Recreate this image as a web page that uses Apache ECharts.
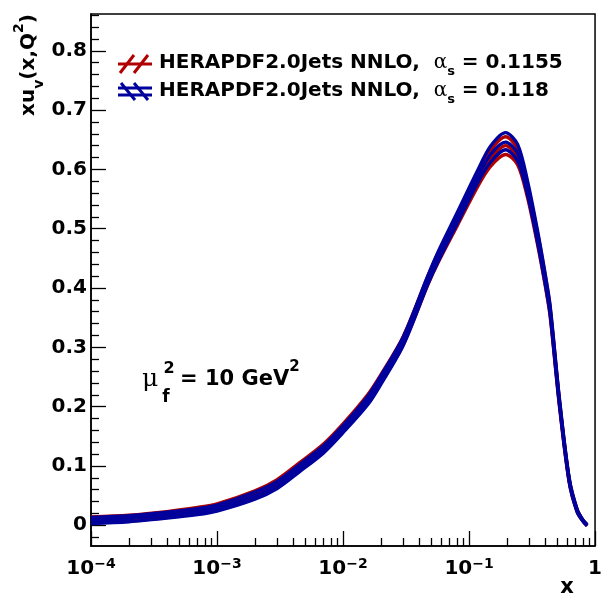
<!DOCTYPE html>
<html><head><meta charset="utf-8">
<script src="https://cdn.jsdelivr.net/npm/echarts@6/dist/echarts.min.js"></script>
<style>html,body{margin:0;padding:0;background:#fff}#c{width:605px;height:604px}</style>
</head><body><div id="c"></div>
<script>
// x grid (log scale)
const xValues = [1e-4, 2e-4, 4e-4, 7e-4, 1e-3, 2e-3, 3e-3, 4.5e-3, 7e-3, 0.01, 0.0158, 0.02, 0.03, 0.047, 0.0566, 0.081, 0.117, 0.148, 0.195, 0.243, 0.29, 0.35, 0.404, 0.44, 0.52, 0.624, 0.72, 0.8, 0.865];
// HERAPDF2.0Jets NNLO, alpha_s = 0.118 (blue band)
const blueUpper = [0.013,0.016,0.022,0.028,0.034,0.056,0.074,0.102,0.134,0.168,0.218,0.252,0.317,0.420,0.460,0.528,0.598,0.639,0.662,0.642,0.582,0.496,0.421,0.370,0.216,0.079,0.027,0.009,0.001];
const blueMid   = [0.008,0.011,0.017,0.023,0.029,0.050,0.068,0.096,0.128,0.162,0.211,0.245,0.310,0.413,0.452,0.519,0.587,0.625,0.646,0.627,0.570,0.486,0.413,0.363,0.211,0.076,0.025,0.008,0.000];
const blueLower = [0.003,0.006,0.012,0.018,0.024,0.044,0.062,0.090,0.122,0.156,0.204,0.238,0.303,0.406,0.444,0.510,0.577,0.612,0.633,0.614,0.559,0.477,0.405,0.356,0.206,0.073,0.023,0.007,-0.001];
// HERAPDF2.0Jets NNLO, alpha_s = 0.1155 (red band)
const redUpper  = [0.014,0.017,0.023,0.030,0.036,0.058,0.077,0.105,0.137,0.171,0.221,0.254,0.318,0.419,0.458,0.524,0.592,0.632,0.655,0.635,0.576,0.492,0.418,0.367,0.214,0.078,0.027,0.009,0.001];
const redMid    = [0.009,0.012,0.018,0.025,0.031,0.052,0.071,0.099,0.131,0.165,0.214,0.247,0.311,0.412,0.450,0.515,0.581,0.618,0.640,0.621,0.565,0.482,0.410,0.360,0.209,0.075,0.025,0.008,0.000];
const redLower  = [0.004,0.007,0.013,0.020,0.026,0.046,0.065,0.093,0.125,0.159,0.207,0.240,0.304,0.405,0.442,0.506,0.571,0.605,0.625,0.608,0.554,0.473,0.402,0.353,0.204,0.072,0.023,0.007,-0.001];

const yMajorTicks = [0, 0.1, 0.2, 0.3, 0.4, 0.5, 0.6, 0.7, 0.8];
const yMinorTicks = [-0.02,0.02,0.04,0.06,0.08,0.12,0.14,0.16,0.18,0.22,0.24,0.26,0.28,0.32,0.34,0.36,0.38,0.42,0.44,0.46,0.48,0.52,0.54,0.56,0.58,0.62,0.64,0.66,0.68,0.72,0.74,0.76,0.78,0.82,0.84,0.86];
const xMajorTicks = [1e-4, 1e-3, 1e-2, 1e-1, 1];
const xMajorLabels = ['10|−4', '10|−3', '10|−2', '10|−1', '1'];
const xMinorTicks = [];
[1e-4, 1e-3, 1e-2, 1e-1].forEach(d => { for (let m = 2; m <= 9; m++) xMinorTicks.push(+(m * d).toPrecision(3)); });

const RED = '#b00000', BLUE = '#00009c';
const FONT = 'DejaVu Sans';
const nameRed = 'HERAPDF2.0Jets NNLO, αs = 0.1155';
const nameBlue = 'HERAPDF2.0Jets NNLO, αs = 0.118';

function mk(name, ys, color) {
  return { type: 'line', name, xAxisIndex: 0, yAxisIndex: 0,
    data: xValues.map((x, i) => [x, ys[i]]),
    showSymbol: false, smooth: 0.3, silent: true,
    lineStyle: { color, width: 3.4 }, itemStyle: { color } };
}

const chart = echarts.init(document.getElementById('c'), null, { renderer: 'canvas' });
chart.setOption({
  animation: false,
  backgroundColor: '#fff',
  grid: { left: 91, right: 7, top: 14, bottom: 58, show: true, borderColor: '#000', borderWidth: 1.5, backgroundColor: 'transparent' },
  xAxis: [
    { type: 'log', logBase: 10, min: 1e-4, max: 1, position: 'bottom',
      axisLine: { onZero: false, lineStyle: { color: '#000', width: 1.5 } },
      axisTick: { inside: true, length: 15, customValues: xMajorTicks, lineStyle: { color: '#000', width: 1.3 } },
      splitLine: { show: false }, minorTick: { show: false },
      axisLabel: { customValues: xMajorTicks, margin: 11, hideOverlap: false,
        formatter: v => { const i = xMajorTicks.findIndex(t => Math.abs(t - v) / t < 1e-6); const s = xMajorLabels[i >= 0 ? i : 0]; const p = s.split('|'); return p.length > 1 ? '{b|' + p[0] + '}{s|' + p[1] + '}' : '{b|' + p[0] + '}'; },
        rich: { b: { fontFamily: FONT, fontWeight: 'bold', fontSize: 20, color: '#000', lineHeight: 24, verticalAlign: 'middle' },
                s: { fontFamily: FONT, fontWeight: 'bold', fontSize: 14, color: '#000', lineHeight: 14, verticalAlign: 'top' } } } },
    { type: 'log', logBase: 10, min: 1e-4, max: 1, position: 'bottom',
      axisLine: { show: false, onZero: false }, axisLabel: { show: false }, splitLine: { show: false },
      axisTick: { inside: true, length: 8, customValues: xMinorTicks, lineStyle: { color: '#000', width: 1.3 } } }
  ],
  yAxis: [
    { type: 'value', min: -0.035, max: 0.862, position: 'left',
      axisLine: { show: true, onZero: false, lineStyle: { color: '#000', width: 1.5 } },
      axisTick: { inside: true, length: 15, customValues: yMajorTicks, lineStyle: { color: '#000', width: 1.3 } },
      splitLine: { show: false },
      axisLabel: { customValues: yMajorTicks, margin: 4, fontFamily: FONT, fontWeight: 'bold', fontSize: 20, color: '#000',
        formatter: v => (Math.abs(v) < 1e-9 ? '0' : v.toFixed(1)) } },
    { type: 'value', min: -0.035, max: 0.862, position: 'left',
      axisLine: { show: false, onZero: false }, axisLabel: { show: false }, splitLine: { show: false },
      axisTick: { inside: true, length: 8, customValues: yMinorTicks, lineStyle: { color: '#000', width: 1.3 } } }
  ],
  series: [
    mk(nameRed, redUpper, RED), mk(nameRed, redMid, RED), mk(nameRed, redLower, RED),
    mk(nameBlue, blueUpper, BLUE), mk(nameBlue, blueMid, BLUE), mk(nameBlue, blueLower, BLUE)
  ],
  graphic: [
    // legend icons
    { type: 'group', silent: true, children: [
      { type: 'line', shape: { x1: 118, y1: 64, x2: 152, y2: 64 }, style: { stroke: RED, lineWidth: 3 } },
      { type: 'line', shape: { x1: 120, y1: 73, x2: 134, y2: 55 }, style: { stroke: RED, lineWidth: 3 } },
      { type: 'line', shape: { x1: 134, y1: 73, x2: 148, y2: 55 }, style: { stroke: RED, lineWidth: 3 } },
      { type: 'line', shape: { x1: 118, y1: 88, x2: 152, y2: 88 }, style: { stroke: BLUE, lineWidth: 3 } },
      { type: 'line', shape: { x1: 118, y1: 95, x2: 152, y2: 95 }, style: { stroke: BLUE, lineWidth: 3 } },
      { type: 'line', shape: { x1: 121, y1: 83, x2: 135, y2: 100 }, style: { stroke: BLUE, lineWidth: 3 } },
      { type: 'line', shape: { x1: 134, y1: 83, x2: 148, y2: 100 }, style: { stroke: BLUE, lineWidth: 3 } }
    ]},
    { type: 'text', x: 159, y: 63, silent: true, style: { text: '{t|HERAPDF2.0Jets NNLO,  }{a|α}{s|s}{t| = 0.1155}', align: 'left', verticalAlign: 'middle',
      rich: { t: { fontFamily: FONT, fontWeight: 'bold', fontSize: 20, fill: '#000', lineHeight: 30, verticalAlign: 'middle' },
              a: { fontFamily: 'DejaVu Serif', fontSize: 20, fill: '#000', lineHeight: 30, verticalAlign: 'middle' },
              s: { fontFamily: FONT, fontWeight: 'bold', fontSize: 13, fill: '#000', lineHeight: 13, verticalAlign: 'bottom' } } } },
    { type: 'text', x: 159, y: 91, silent: true, style: { text: '{t|HERAPDF2.0Jets NNLO,  }{a|α}{s|s}{t| = 0.118}', align: 'left', verticalAlign: 'middle',
      rich: { t: { fontFamily: FONT, fontWeight: 'bold', fontSize: 20, fill: '#000', lineHeight: 30, verticalAlign: 'middle' },
              a: { fontFamily: 'DejaVu Serif', fontSize: 20, fill: '#000', lineHeight: 30, verticalAlign: 'middle' },
              s: { fontFamily: FONT, fontWeight: 'bold', fontSize: 13, fill: '#000', lineHeight: 13, verticalAlign: 'bottom' } } } },
    // y axis title
    { type: 'text', x: 29, y: 65, rotation: Math.PI / 2, silent: true, style: { text: '{m|xu}{d|v}{m|(x,Q}{u|2}{m|)}', align: 'center', verticalAlign: 'middle',
      rich: { m: { fontFamily: FONT, fontWeight: 'bold', fontSize: 20, fill: '#000', lineHeight: 34, verticalAlign: 'middle' },
              d: { fontFamily: FONT, fontWeight: 'bold', fontSize: 14, fill: '#000', lineHeight: 14, verticalAlign: 'bottom' },
              u: { fontFamily: FONT, fontWeight: 'bold', fontSize: 14, fill: '#000', lineHeight: 14, verticalAlign: 'top' } } } },
    // x axis title
    { type: 'text', x: 567, y: 588, silent: true, style: { text: 'x', align: 'center', verticalAlign: 'middle', font: 'bold 21px "DejaVu Sans"', fill: '#000' } },
    // mu_f^2 annotation
    { type: 'text', x: 142, y: 379, silent: true, style: { text: 'μ', align: 'left', verticalAlign: 'middle', font: '25px "DejaVu Serif"', fill: '#000' } },
    { type: 'text', x: 169, y: 369, silent: true, style: { text: '2', align: 'center', verticalAlign: 'middle', font: 'bold 16px "DejaVu Sans"', fill: '#000' } },
    { type: 'text', x: 166, y: 398, silent: true, style: { text: 'f', align: 'center', verticalAlign: 'middle', font: 'bold 17px "DejaVu Sans"', fill: '#000' } },
    { type: 'text', x: 180, y: 380, silent: true, style: { text: '{t|= 10 GeV}{u|2}', align: 'left', verticalAlign: 'middle',
      rich: { t: { fontFamily: FONT, fontWeight: 'bold', fontSize: 21, fill: '#000', lineHeight: 40, verticalAlign: 'middle' },
              u: { fontFamily: FONT, fontWeight: 'bold', fontSize: 15, fill: '#000', lineHeight: 15, verticalAlign: 'top' } } } }
  ]
});
</script></body></html>
